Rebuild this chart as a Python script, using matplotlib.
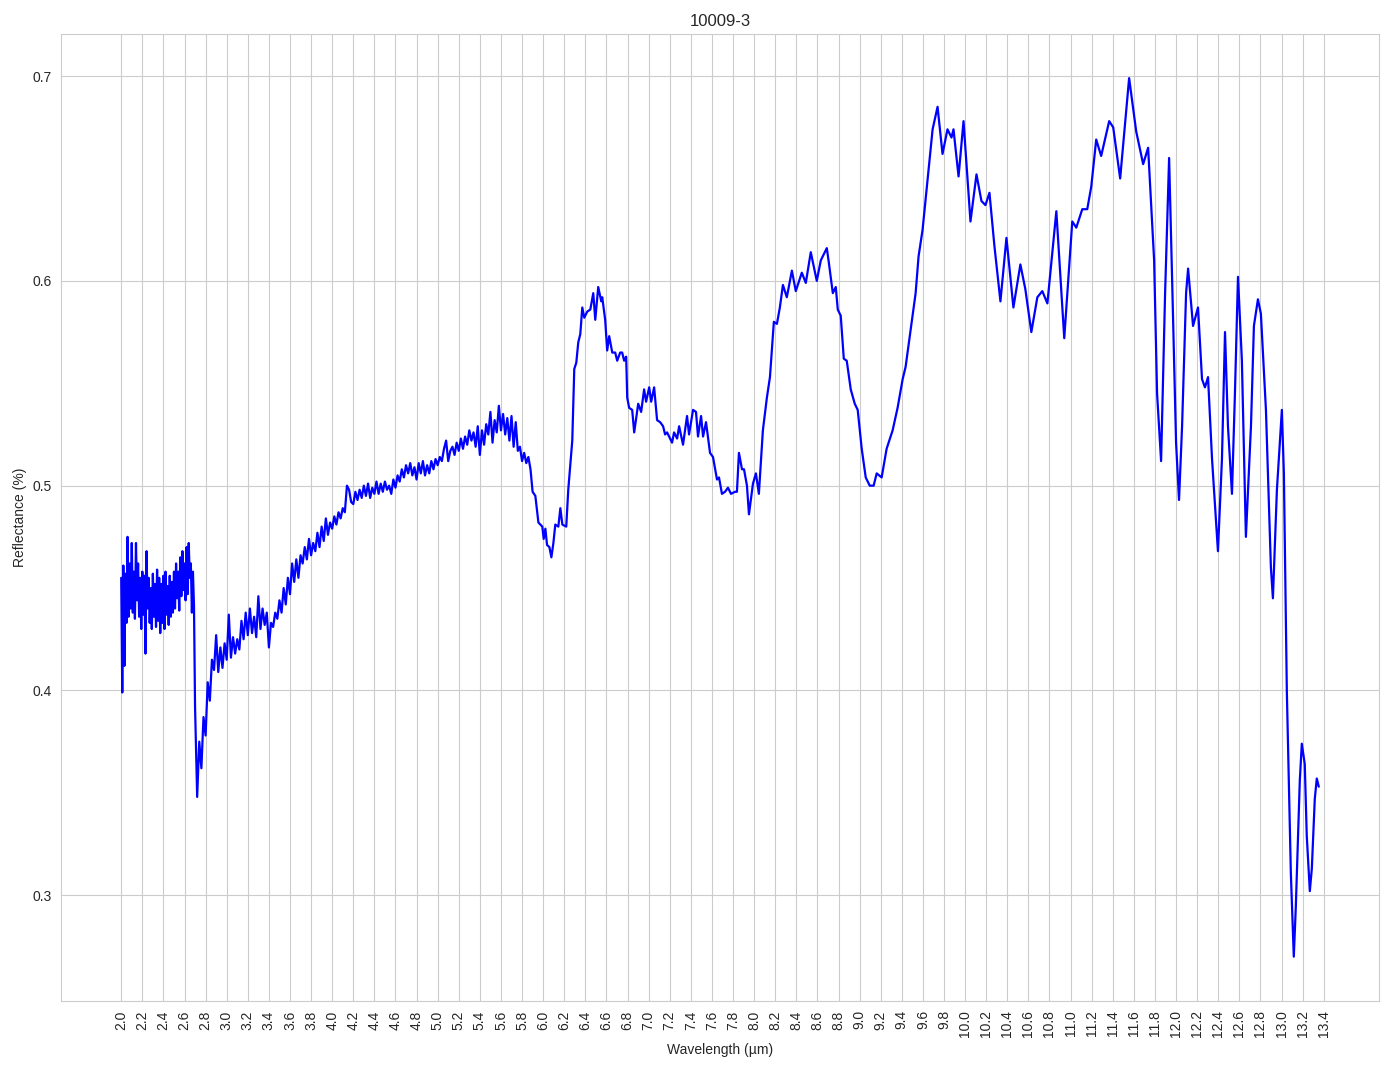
import matplotlib.pyplot as plt
import numpy as np
import seaborn as sns

# 2.00 - 2.70 um, sampled every 0.01 um (very noisy start)
refl_a = [0.455, 0.399, 0.461, 0.412, 0.457, 0.433, 0.475, 0.436, 0.462, 0.440,
          0.472, 0.438, 0.458, 0.435, 0.472, 0.444, 0.462, 0.436, 0.455, 0.430,
          0.458, 0.437, 0.456, 0.418, 0.468, 0.440, 0.455, 0.433, 0.450, 0.430,
          0.457, 0.436, 0.452, 0.431, 0.459, 0.434, 0.455, 0.428, 0.452, 0.433,
          0.456, 0.430, 0.458, 0.437, 0.451, 0.432, 0.456, 0.436, 0.453, 0.438,
          0.458, 0.440, 0.462, 0.445, 0.458, 0.439, 0.465, 0.446, 0.468, 0.449,
          0.462, 0.444, 0.470, 0.447, 0.472, 0.455, 0.462, 0.438, 0.458, 0.441,
          0.392]

# 2.72 - 5.90 um, sampled every 0.02 um
refl_b = [0.348, 0.375, 0.362, 0.387, 0.378, 0.404, 0.395, 0.415, 0.410, 0.427,
          0.409, 0.421, 0.411, 0.423, 0.415, 0.437, 0.416, 0.426, 0.418, 0.425,
          0.420, 0.434, 0.425, 0.438, 0.427, 0.440, 0.428, 0.436, 0.426, 0.446,
          0.430, 0.440, 0.432, 0.438, 0.421, 0.433, 0.431, 0.438, 0.435, 0.444,
          0.438, 0.450, 0.442, 0.455, 0.447, 0.462, 0.453, 0.464, 0.455, 0.466,
          0.462, 0.470, 0.464, 0.474, 0.466, 0.472, 0.468, 0.477, 0.470, 0.480,
          0.473, 0.484, 0.476, 0.482, 0.479, 0.485, 0.481, 0.487, 0.484, 0.489,
          0.487, 0.500, 0.498, 0.492, 0.491, 0.497, 0.493, 0.498, 0.494, 0.500,
          0.495, 0.501, 0.494, 0.499, 0.496, 0.502, 0.496, 0.501, 0.497, 0.502,
          0.498, 0.500, 0.496, 0.503, 0.499, 0.505, 0.502, 0.508, 0.504, 0.510,
          0.506, 0.511, 0.505, 0.509, 0.503, 0.511, 0.506, 0.512, 0.505, 0.510,
          0.506, 0.512, 0.508, 0.513, 0.510, 0.514, 0.512, 0.518, 0.522, 0.512,
          0.517, 0.519, 0.515, 0.521, 0.517, 0.523, 0.518, 0.524, 0.520, 0.527,
          0.522, 0.526, 0.519, 0.529, 0.515, 0.527, 0.520, 0.530, 0.525, 0.536,
          0.521, 0.532, 0.526, 0.539, 0.527, 0.535, 0.525, 0.533, 0.522, 0.534,
          0.519, 0.531, 0.517, 0.519, 0.512, 0.516, 0.511, 0.514, 0.508, 0.497]

# 5.9 um onwards, smoother part read point by point
wl_c = [5.926, 5.955, 5.992, 6.005, 6.021, 6.037, 6.059, 6.078, 6.097, 6.115,
        6.144, 6.163, 6.182, 6.219, 6.238, 6.276, 6.295, 6.314, 6.333, 6.352,
        6.371, 6.390, 6.418, 6.447, 6.475, 6.494, 6.522, 6.551, 6.560, 6.588,
        6.607, 6.626, 6.655, 6.683, 6.702, 6.730, 6.749, 6.768, 6.787, 6.797,
        6.815, 6.844, 6.863, 6.901, 6.929, 6.957, 6.976, 7.005, 7.024, 7.052,
        7.080, 7.109, 7.137, 7.156, 7.175, 7.222, 7.241, 7.270, 7.289, 7.326,
        7.364, 7.383, 7.421, 7.449, 7.468, 7.497, 7.516, 7.544, 7.582, 7.610,
        7.648, 7.667, 7.695, 7.724, 7.752, 7.781, 7.818, 7.837, 7.856, 7.885,
        7.904, 7.932, 7.951, 7.989, 8.017, 8.045, 8.083, 8.121, 8.150, 8.187,
        8.216, 8.244, 8.273, 8.310, 8.358, 8.395, 8.452, 8.490, 8.537, 8.594,
        8.632, 8.651, 8.689, 8.708, 8.746, 8.774, 8.793, 8.821, 8.850, 8.878,
        8.916, 8.954, 8.982, 9.020, 9.058, 9.096, 9.133, 9.162, 9.209, 9.256,
        9.313, 9.360, 9.408, 9.436, 9.483, 9.531, 9.559, 9.597, 9.663, 9.692,
        9.739, 9.786, 9.833, 9.871, 9.890, 9.938, 9.985, 10.051, 10.108, 10.155,
        10.193, 10.231, 10.278, 10.335, 10.392, 10.458, 10.524, 10.571, 10.628, 10.685,
        10.732, 10.780, 10.865, 10.940, 11.016, 11.054, 11.111, 11.158, 11.196, 11.243,
        11.290, 11.366, 11.404, 11.470, 11.555, 11.622, 11.688, 11.735, 11.792, 11.820,
        11.858, 11.896, 11.934, 11.962, 12.000, 12.028, 12.057, 12.095, 12.114, 12.161,
        12.208, 12.246, 12.274, 12.303, 12.341, 12.397, 12.435, 12.464, 12.492, 12.530,
        12.558, 12.587, 12.624, 12.662, 12.710, 12.738, 12.776, 12.804, 12.852, 12.899,
        12.918, 12.956, 13.003, 13.022, 13.050, 13.088, 13.116, 13.135, 13.173, 13.192,
        13.220, 13.239, 13.268, 13.287, 13.315, 13.334, 13.353]
refl_c = [0.495, 0.482, 0.480, 0.474, 0.479, 0.471, 0.470, 0.465, 0.472, 0.481,
          0.480, 0.489, 0.481, 0.480, 0.498, 0.522, 0.557, 0.560, 0.570, 0.574,
          0.587, 0.582, 0.585, 0.586, 0.594, 0.581, 0.597, 0.590, 0.592, 0.581,
          0.566, 0.573, 0.565, 0.565, 0.561, 0.565, 0.565, 0.561, 0.563, 0.543,
          0.538, 0.537, 0.526, 0.540, 0.536, 0.547, 0.541, 0.548, 0.541, 0.548,
          0.532, 0.531, 0.529, 0.525, 0.526, 0.521, 0.526, 0.523, 0.529, 0.520,
          0.534, 0.525, 0.537, 0.536, 0.524, 0.534, 0.524, 0.531, 0.516, 0.514,
          0.503, 0.504, 0.496, 0.497, 0.499, 0.496, 0.497, 0.497, 0.516, 0.508,
          0.508, 0.500, 0.486, 0.501, 0.506, 0.496, 0.527, 0.543, 0.553, 0.580,
          0.579, 0.587, 0.598, 0.592, 0.605, 0.595, 0.604, 0.599, 0.614, 0.600,
          0.610, 0.612, 0.616, 0.609, 0.594, 0.597, 0.586, 0.583, 0.562, 0.561,
          0.547, 0.540, 0.537, 0.518, 0.504, 0.500, 0.500, 0.506, 0.504, 0.518,
          0.527, 0.538, 0.552, 0.558, 0.576, 0.594, 0.612, 0.625, 0.659, 0.674,
          0.685, 0.662, 0.674, 0.670, 0.674, 0.651, 0.678, 0.629, 0.652, 0.639,
          0.637, 0.643, 0.617, 0.590, 0.621, 0.587, 0.608, 0.596, 0.575, 0.592,
          0.595, 0.589, 0.634, 0.572, 0.629, 0.626, 0.635, 0.635, 0.646, 0.669,
          0.661, 0.678, 0.675, 0.650, 0.699, 0.673, 0.657, 0.665, 0.610, 0.545,
          0.512, 0.594, 0.660, 0.602, 0.521, 0.493, 0.529, 0.594, 0.606, 0.578,
          0.587, 0.552, 0.548, 0.553, 0.513, 0.468, 0.513, 0.575, 0.529, 0.496,
          0.545, 0.602, 0.561, 0.475, 0.529, 0.578, 0.591, 0.584, 0.537, 0.460,
          0.445, 0.498, 0.537, 0.506, 0.400, 0.311, 0.270, 0.294, 0.356, 0.374,
          0.364, 0.329, 0.302, 0.313, 0.347, 0.357, 0.353]

wl_a = 2.00 + 0.01 * np.arange(len(refl_a))
wl_b = 2.72 + 0.02 * np.arange(len(refl_b))
wavelength = np.concatenate([wl_a, wl_b, wl_c])
reflectance = np.concatenate([refl_a, refl_b, refl_c])

sns.set_style("whitegrid")
plt.rcParams['font.family'] = ['Liberation Sans', 'DejaVu Sans']

fig, ax = plt.subplots(figsize=(13.94, 10.69), dpi=100)
ax.plot(wavelength, reflectance, color="blue", linewidth=1.6)

ticks = np.arange(2.0, 13.41, 0.2)
ax.set_xticks(ticks)
ax.set_xticklabels([f"{t:.1f}" for t in ticks], rotation=90)
ax.set_yticks([0.3, 0.4, 0.5, 0.6, 0.7])

ax.set_title("10009-3")
ax.set_xlabel("Wavelength (µm)")
ax.set_ylabel("Reflectance (%)")

fig.subplots_adjust(left=0.044, right=0.989, top=0.968, bottom=0.064)
fig.savefig("out.png")
